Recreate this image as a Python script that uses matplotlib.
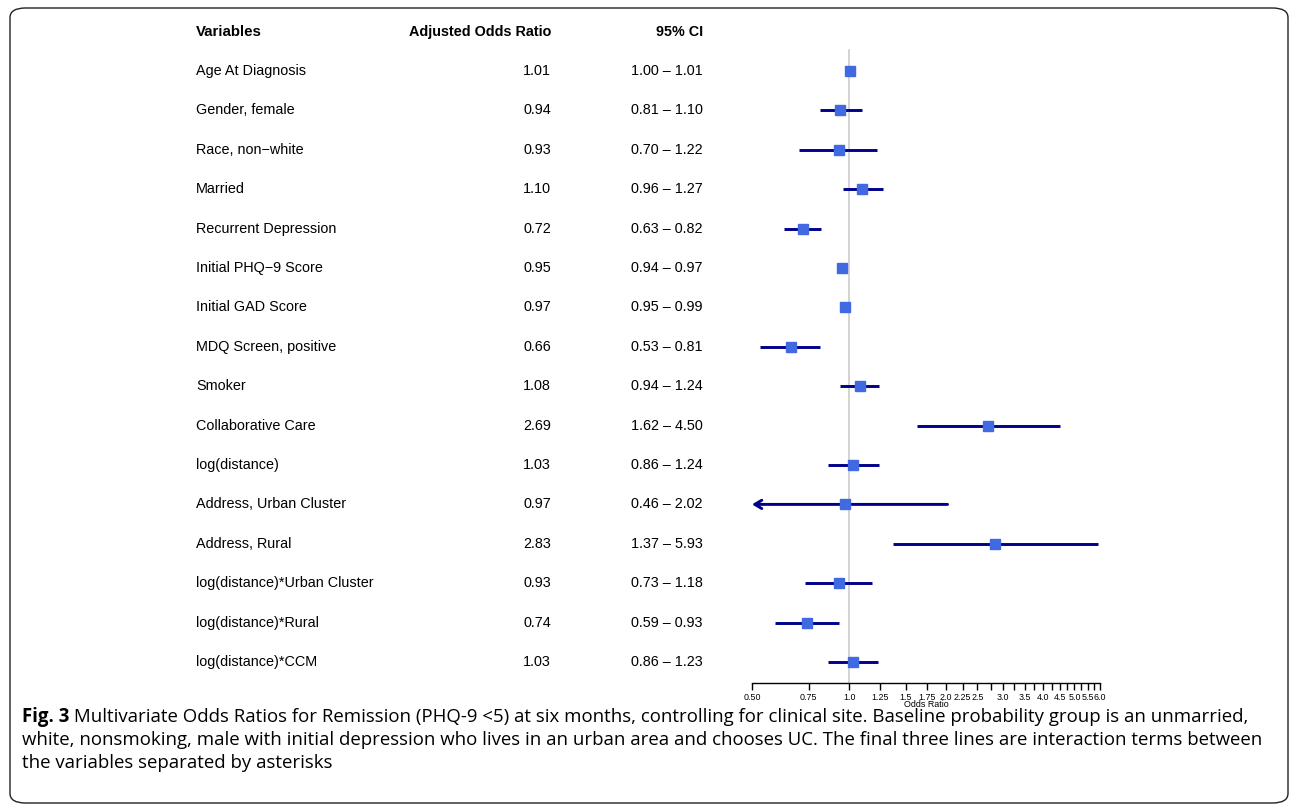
import matplotlib
matplotlib.use("Agg")
import matplotlib.pyplot as plt
from matplotlib.patches import FancyBboxPatch
import matplotlib.transforms as mtransforms

variables = [
    "Age At Diagnosis", "Gender, female", "Race, non\u2212white", "Married",
    "Recurrent Depression", "Initial PHQ\u22129 Score", "Initial GAD Score",
    "MDQ Screen, positive", "Smoker", "Collaborative Care", "log(distance)",
    "Address, Urban Cluster", "Address, Rural", "log(distance)*Urban Cluster",
    "log(distance)*Rural", "log(distance)*CCM",
]
odds_ratio = [1.01, 0.94, 0.93, 1.10, 0.72, 0.95, 0.97, 0.66, 1.08, 2.69,
              1.03, 0.97, 2.83, 0.93, 0.74, 1.03]
ci_low = [1.00, 0.81, 0.70, 0.96, 0.63, 0.94, 0.95, 0.53, 0.94, 1.62,
          0.86, 0.46, 1.37, 0.73, 0.59, 0.86]
ci_high = [1.01, 1.10, 1.22, 1.27, 0.82, 0.97, 0.99, 0.81, 1.24, 4.50,
           1.24, 2.02, 5.93, 1.18, 0.93, 1.23]

tick_values = [0.5, 0.75, 1.0, 1.25, 1.5, 1.75, 2.0, 2.25, 2.5, 2.75, 3.0,
               3.25, 3.5, 3.75, 4.0, 4.25, 4.5, 4.75, 5.0, 5.25, 5.5, 5.75, 6.0]
tick_labels = ["0.50", "0.75", "1.0", "1.25", "1.5", "1.75", "2.0", "2.25",
               "2.5", "", "3.0", "", "3.5", "", "4.0", "", "4.5", "", "5.0",
               "", "5.5", "", "6.0"]
x_min, x_max = 0.5, 6.0

caption_bold = "Fig. 3"
caption_lines = [
    " Multivariate Odds Ratios for Remission (PHQ-9 <5) at six months, controlling for clinical site. Baseline probability group is an unmarried,",
    "white, nonsmoking, male with initial depression who lives in an urban area and chooses UC. The final three lines are interaction terms between",
    "the variables separated by asterisks",
]

W, H = 1292, 806
fig = plt.figure(figsize=(W / 100, H / 100), dpi=100)
plt.rcParams["font.family"] = ["Liberation Sans", "DejaVu Sans"]

# axes: x from 0.5 (px 752) to 6.0 (px 1100); y px 12 .. 683
ax_left, ax_right, ax_top, ax_bot = 752, 1100, 12, 683
ax = fig.add_axes([ax_left / W, 1 - ax_bot / H, (ax_right - ax_left) / W, (ax_bot - ax_top) / H])
ax.set_xscale("log")
ax.set_xlim(x_min, x_max)
row_px = 39.4
ax.set_ylim(15 + (ax_bot - 662) / row_px, 0 - (71 - ax_top) / row_px)

navy = "#00008B"
box = "#4169E1"
ax.plot([1, 1], [-0.53, ax.get_ylim()[0]], color="#cccccc", lw=1.2, zorder=0, clip_on=False)

for i in range(len(variables)):
    lo, hi, m = ci_low[i], ci_high[i], odds_ratio[i]
    if lo < x_min:
        ax.annotate("", xy=(x_min, i), xytext=(hi, i),
                    arrowprops=dict(arrowstyle="->,head_length=0.5,head_width=0.3",
                                    color=navy, lw=2.1, shrinkA=0, shrinkB=0))
    else:
        ax.plot([lo, hi], [i, i], color=navy, lw=2.1, solid_capstyle="butt")
    ax.plot([m], [i], marker="s", markersize=7.4, color=box, mec=box, zorder=3)

for s in ["top", "left", "right"]:
    ax.spines[s].set_visible(False)
ax.spines["bottom"].set_linewidth(1.0)
ax.set_yticks([])
ax.minorticks_off()
ax.set_xticks(tick_values)
ax.set_xticklabels(tick_labels, fontsize=6.4)
ax.tick_params(axis="x", direction="out", length=5, width=1.0, pad=2)
ax.set_xlabel("Odds Ratio", fontsize=6.4, labelpad=-1)
ax.patch.set_alpha(0)

# table text
tr = mtransforms.blended_transform_factory(fig.transFigure, ax.transData)
col_var, col_or, col_ci = 196 / W, 551 / W, 703 / W
fs = 10.4
ax.text(col_var, -1, "Variables", transform=tr, fontsize=fs + 0.4, fontweight="bold", va="center", ha="left")
ax.text(col_or, -1, "Adjusted Odds Ratio", transform=tr, fontsize=fs, fontweight="bold", va="center", ha="right")
ax.text(col_ci, -1, "95% CI", transform=tr, fontsize=fs, fontweight="bold", va="center", ha="right")
for i, name in enumerate(variables):
    ax.text(col_var, i, name, transform=tr, fontsize=fs, va="center", ha="left")
    ax.text(col_or, i, f"{odds_ratio[i]:.2f}", transform=tr, fontsize=fs, va="center", ha="right")
    ax.text(col_ci, i, f"{ci_low[i]:.2f} \u2013 {ci_high[i]:.2f}", transform=tr, fontsize=fs, va="center", ha="right")

# caption
cap_font = "Open Sans"
cap_fs = 13.4
cap_x = 22 / W
line_y = [717, 740, 763]
t_bold = fig.text(cap_x, 1 - line_y[0] / H, caption_bold, fontsize=cap_fs, fontweight="bold",
                  family=cap_font, va="center", ha="left")
renderer = fig.canvas.get_renderer()
bb = t_bold.get_window_extent(renderer)
fig.text(bb.x1 / W, 1 - line_y[0] / H, caption_lines[0], fontsize=cap_fs, family=cap_font, va="center", ha="left")
for k in (1, 2):
    fig.text(cap_x, 1 - line_y[k] / H, caption_lines[k], fontsize=cap_fs, family=cap_font, va="center", ha="left")

border = FancyBboxPatch((10 / W, 1 - 803 / H), 1278 / W, 795 / H,
                        boxstyle="round,pad=0,rounding_size=0.012",
                        transform=fig.transFigure, fill=False, ec="#222222", lw=1.0)
fig.patches.append(border)

fig.savefig("out.png", dpi=100)
